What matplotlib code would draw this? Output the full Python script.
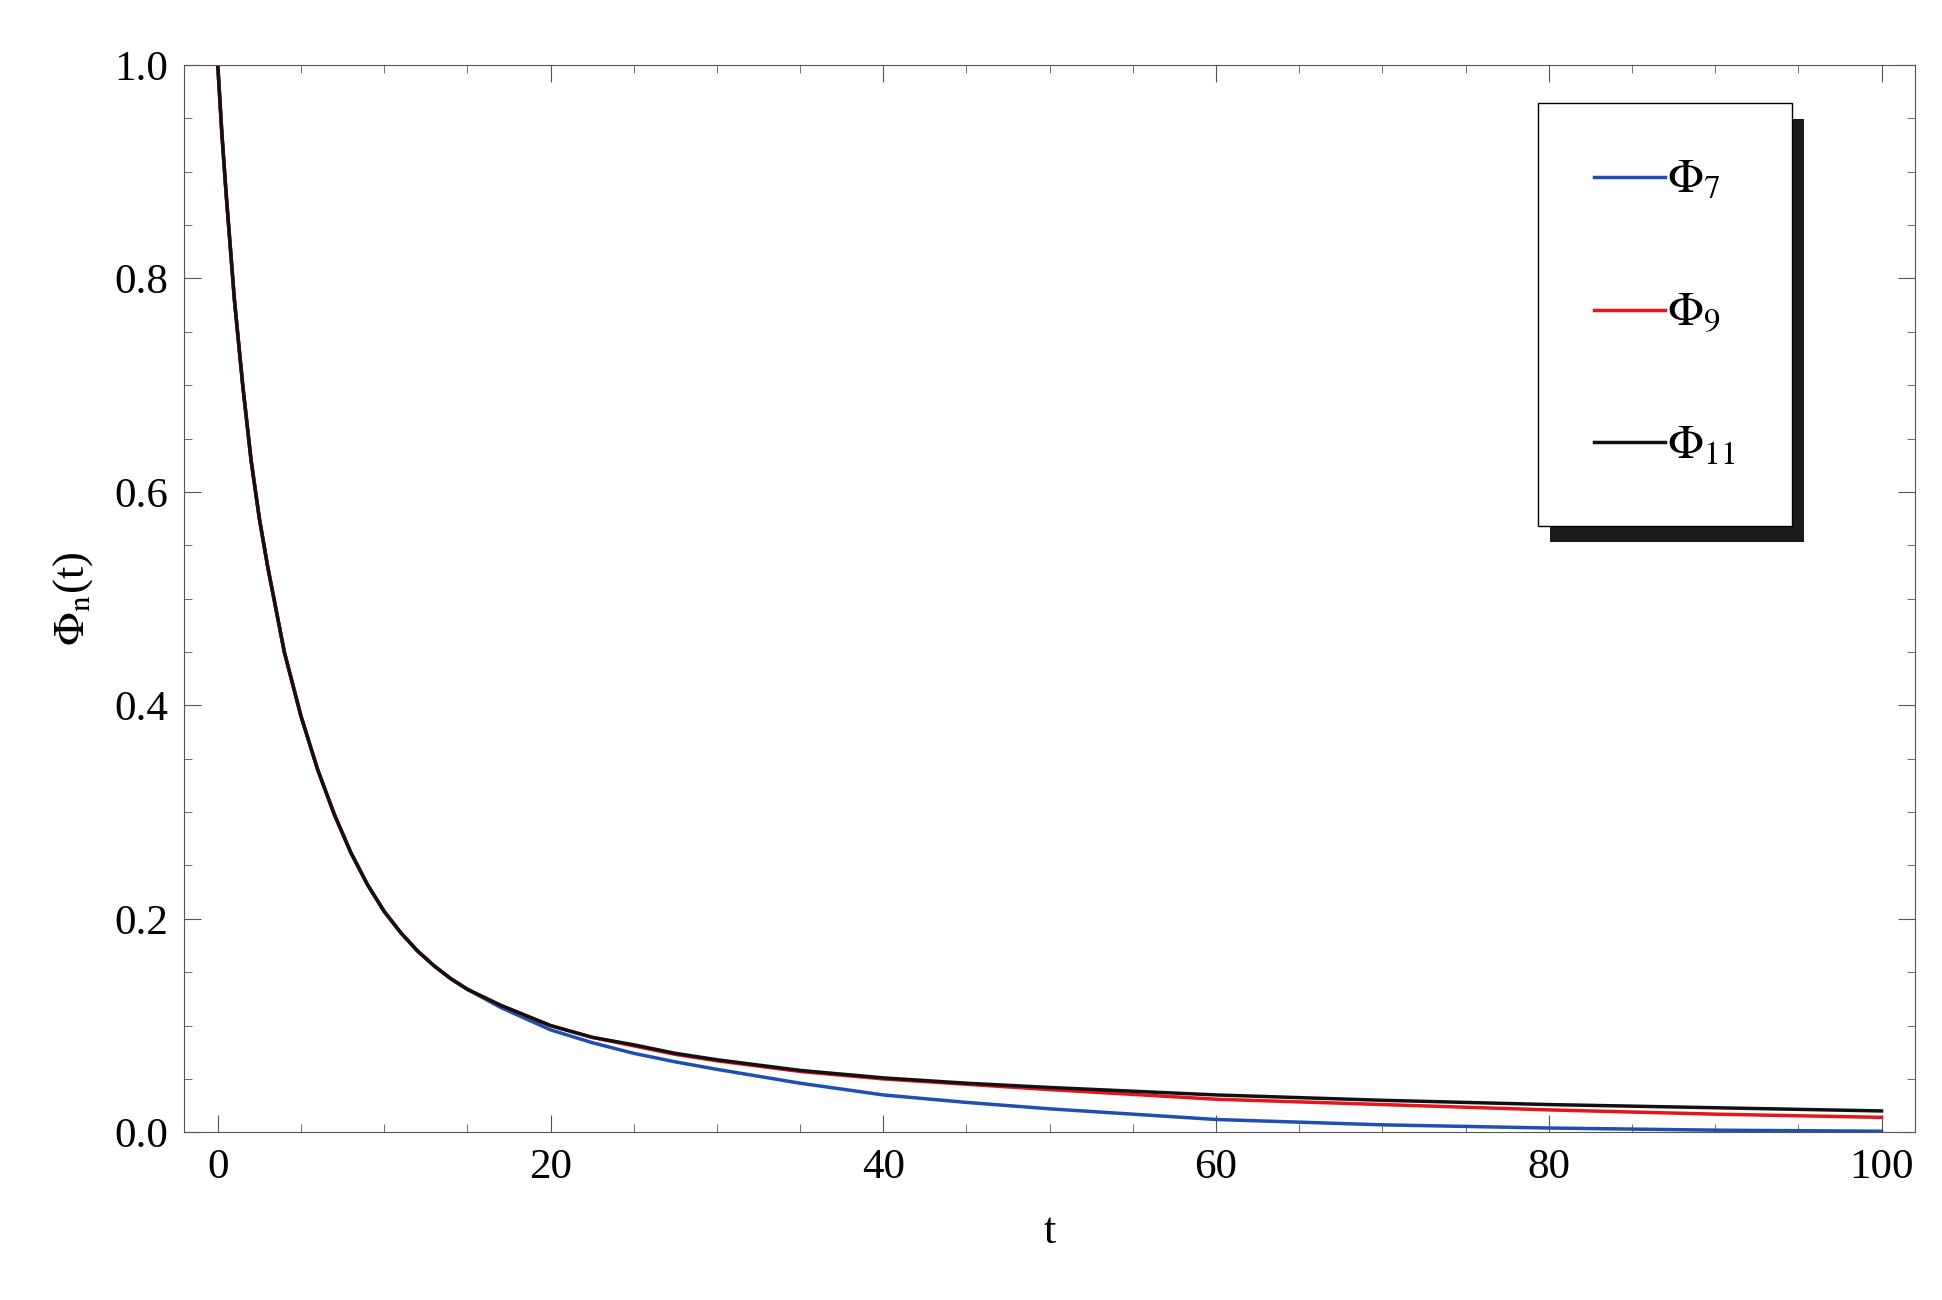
import matplotlib
matplotlib.use("Agg")
import matplotlib.pyplot as plt
from matplotlib.patches import Rectangle
from matplotlib.ticker import MultipleLocator

plt.rcParams['font.family'] = ['Liberation Serif', 'DejaVu Serif']
plt.rcParams['mathtext.fontset'] = 'stix'

t = [0, 0.25, 0.5, 1, 1.5, 2, 2.5, 3, 4, 5, 6, 7, 8, 9, 10, 11, 12, 13, 14, 15, 17, 20, 22.5, 25, 27.5, 30, 35, 40, 45, 50, 60, 70, 80, 90, 100]
early = [1.0, 0.935, 0.88, 0.78, 0.70, 0.63, 0.575, 0.53, 0.45, 0.39, 0.34, 0.298, 0.262, 0.232, 0.207, 0.187, 0.170, 0.156, 0.144, 0.134]
phi7 = early + [0.117, 0.096, 0.084, 0.074, 0.066, 0.059, 0.046, 0.035, 0.028, 0.022, 0.012, 0.007, 0.004, 0.002, 0.001]
phi9 = early + [0.119, 0.100, 0.089, 0.081, 0.073, 0.067, 0.057, 0.050, 0.045, 0.040, 0.031, 0.026, 0.021, 0.017, 0.014]
phi11 = early + [0.119, 0.100, 0.089, 0.082, 0.074, 0.068, 0.058, 0.051, 0.046, 0.042, 0.035, 0.030, 0.026, 0.023, 0.020]

fig = plt.figure(figsize=(19.42, 13.0), dpi=100)
ax = fig.add_axes([0.095, 0.129, 0.891, 0.821])
ax.plot(t, phi7, color='#1f4fb0', lw=2.5, label=r'$\Phi_7$')
ax.plot(t, phi9, color='#e8141c', lw=2.5, label=r'$\Phi_9$')
ax.plot(t, phi11, color='#111111', lw=2.5, label=r'$\Phi_{11}$')
ax.set_xlim(-2, 102)
ax.set_ylim(0, 1)
ax.xaxis.set_major_locator(MultipleLocator(20))
ax.xaxis.set_minor_locator(MultipleLocator(5))
ax.yaxis.set_major_locator(MultipleLocator(0.2))
ax.yaxis.set_minor_locator(MultipleLocator(0.05))
ax.yaxis.set_major_formatter(matplotlib.ticker.FormatStrFormatter('%.1f'))
ax.tick_params(which='both', direction='in', top=True, right=True, labelsize=31, color='#555555')
ax.tick_params(which='major', length=12, pad=12)
ax.tick_params(which='minor', length=6)
for s in ax.spines.values():
    s.set_color('#555555')
ax.set_xlabel('t', fontsize=32, labelpad=18)
ax.set_ylabel(r'$\Phi_\mathrm{n}$(t)', fontsize=32, labelpad=14)

leg = ax.legend(loc='upper left', bbox_to_anchor=(0.782, 0.964), fontsize=34,
                frameon=True, fancybox=False, edgecolor='black', framealpha=1,
                handlelength=1.5, handletextpad=0.05, labelspacing=1.9,
                borderpad=1.2, borderaxespad=0)
leg.get_frame().set_linewidth(1.0)
leg.set_zorder(5)
for h in leg.get_lines():
    h.set_linewidth(2.5)
fig.canvas.draw()
bb = leg.get_window_extent()
inv = ax.transAxes.inverted()
(ax0, ay0), (ax1, ay1) = inv.transform([(bb.x0 + 12, bb.y0 - 16), (bb.x1 + 12, bb.y1 - 16)])
ax.add_patch(Rectangle((ax0, ay0), ax1 - ax0, ay1 - ay0, transform=ax.transAxes,
                       facecolor='#1a1a1a', edgecolor='none', zorder=4, clip_on=False))
fig.savefig('out.png', dpi=100)
